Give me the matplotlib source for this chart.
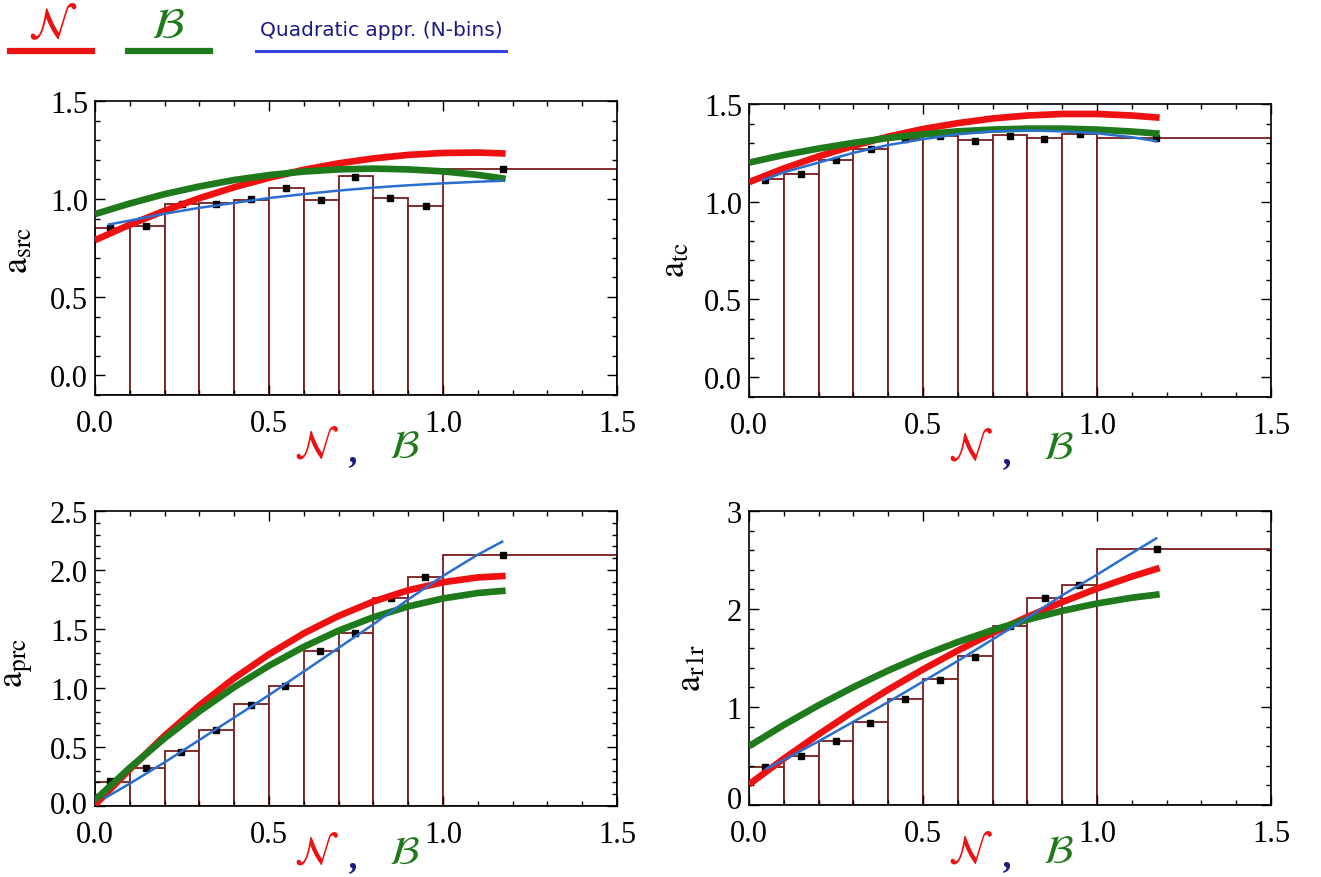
import numpy as np
import matplotlib
matplotlib.use('Agg')
import matplotlib.pyplot as plt
from matplotlib.lines import Line2D
from matplotlib.ticker import MultipleLocator
from matplotlib.transforms import ScaledTranslation

###############################################################################
# DATA
###############################################################################
bin_edges = [0.0, 0.1, 0.2, 0.3, 0.4, 0.5, 0.6, 0.7, 0.8, 0.9, 1.0, 1.5]
curve_x = [0.0, 0.1, 0.2, 0.3, 0.4, 0.5, 0.6, 0.7, 0.8, 0.9, 1.0, 1.1, 1.18]

# a_src
src_bins = [0.851, 0.864, 0.974, 0.979, 0.996, 1.056, 0.993, 1.116, 1.005, 0.965, 1.155]
src_pts_x = [0.042, 0.147, 0.25, 0.348, 0.447, 0.55, 0.648, 0.748, 0.848, 0.95, 1.173]
src_pts_y = [0.854, 0.862, 0.974, 0.976, 0.998, 1.056, 0.993, 1.113, 1.003, 0.962, 1.155]
src_N = [0.79, 0.869, 0.940, 1.004, 1.060, 1.108, 1.149, 1.182, 1.207, 1.225, 1.235, 1.237, 1.232]
src_B = [0.923, 0.977, 1.025, 1.064, 1.097, 1.122, 1.140, 1.151, 1.155, 1.151, 1.141, 1.123, 1.103]
src_quad_x = [0.04, 0.1, 0.2, 0.3, 0.4, 0.5, 0.6, 0.7, 0.8, 0.9, 1.0, 1.1, 1.17]
src_quad = [0.87, 0.89, 0.925, 0.955, 0.98, 1.005, 1.025, 1.043, 1.058, 1.07, 1.08, 1.088, 1.093]

# a_tc
tc_bins = [1.116, 1.142, 1.214, 1.27, 1.32, 1.338, 1.316, 1.341, 1.324, 1.347, 1.324]
tc_pts_x = [0.046, 0.15, 0.25, 0.35, 0.448, 0.55, 0.65, 0.749, 0.849, 0.95, 1.17]
tc_pts_y = [1.113, 1.142, 1.214, 1.27, 1.322, 1.338, 1.31, 1.338, 1.322, 1.345, 1.324]
tc_N = [1.10, 1.17, 1.232, 1.286, 1.333, 1.372, 1.402, 1.426, 1.441, 1.449, 1.449, 1.441, 1.43]
tc_B = [1.20, 1.239, 1.272, 1.301, 1.326, 1.345, 1.360, 1.369, 1.374, 1.374, 1.369, 1.359, 1.348]
tc_quad_x = [0.04, 0.1, 0.2, 0.3, 0.4, 0.5, 0.6, 0.7, 0.8, 0.9, 1.0, 1.1, 1.17]
tc_quad = [1.11, 1.15, 1.20, 1.25, 1.29, 1.32, 1.345, 1.36, 1.365, 1.36, 1.35, 1.33, 1.31]

# a_prc
prc_bins = [0.203, 0.325, 0.466, 0.644, 0.862, 1.017, 1.314, 1.463, 1.766, 1.944, 2.124]
prc_pts_x = [0.042, 0.147, 0.247, 0.348, 0.448, 0.547, 0.647, 0.747, 0.85, 0.948, 1.171]
prc_pts_y = [0.209, 0.322, 0.46, 0.644, 0.856, 1.017, 1.314, 1.463, 1.766, 1.944, 2.124]
prc_N = [0.01, 0.311, 0.596, 0.853, 1.083, 1.286, 1.463, 1.611, 1.733, 1.828, 1.896, 1.937, 1.95]
prc_B = [0.05, 0.324, 0.574, 0.802, 1.007, 1.189, 1.349, 1.486, 1.600, 1.691, 1.759, 1.805, 1.825]
prc_quad_x = [0.03, 0.1, 0.2, 0.3, 0.4, 0.5, 0.6, 0.7, 0.8, 0.9, 1.0, 1.1, 1.17]
prc_quad = [0.07, 0.19, 0.37, 0.56, 0.75, 0.94, 1.14, 1.34, 1.54, 1.75, 1.95, 2.13, 2.24]

# a_r1r
r1r_bins = [0.384, 0.503, 0.656, 0.843, 1.081, 1.284, 1.522, 1.828, 2.117, 2.243, 2.616]
r1r_pts_x = [0.046, 0.148, 0.25, 0.349, 0.449, 0.549, 0.648, 0.75, 0.851, 0.947, 1.172]
r1r_pts_y = [0.384, 0.503, 0.656, 0.836, 1.081, 1.277, 1.515, 1.828, 2.117, 2.25, 2.616]
r1r_N = [0.21, 0.473, 0.721, 0.956, 1.177, 1.384, 1.576, 1.755, 1.920, 2.071, 2.208, 2.331, 2.419]
r1r_B = [0.60, 0.817, 1.018, 1.203, 1.372, 1.526, 1.663, 1.785, 1.891, 1.981, 2.056, 2.115, 2.150]
r1r_quad_x = [0.05, 0.1, 0.2, 0.3, 0.4, 0.5, 0.6, 0.7, 0.8, 0.9, 1.0, 1.1, 1.17]
r1r_quad = [0.37, 0.46, 0.65, 0.85, 1.05, 1.26, 1.47, 1.69, 1.91, 2.14, 2.35, 2.57, 2.72]

x_ticks = [0.0, 0.5, 1.0, 1.5]
x_ticklabels = ['0.0', '0.5', '1.0', '1.5']

###############################################################################
# STYLE
###############################################################################
plt.rcParams['font.family'] = ['Liberation Serif', 'DejaVu Serif']
plt.rcParams['mathtext.fontset'] = 'stix'

RED = '#ee1111'
GREEN = '#1f7a1c'
BLUE = '#2a6fd0'
BAR_EDGE = '#7a1c1c'
NAVY = '#1a1a80'

W, H = 1321, 878


def rect(left, top, right, bottom):
    # pixel box -> figure fraction
    return [left / W, 1 - bottom / H, (right - left) / W, (bottom - top) / H]


def panel(ax, bins, pts_x, pts_y, n_vals, b_vals, qx, qy, ylabel,
          yticks, yticklabels, ylim, yminor, ylab_pos, xlab_y, zero_lift=0):
    edges = np.array(bin_edges)
    ax.bar(edges[:-1], bins, width=np.diff(edges), align='edge',
           facecolor='white', edgecolor=BAR_EDGE, linewidth=1.3, zorder=1)
    ax.plot(pts_x, pts_y, 's', color='black', markersize=4.5, zorder=2)
    ax.plot(curve_x, n_vals, color=RED, lw=4.8, solid_capstyle='butt', zorder=3)
    ax.plot(curve_x, b_vals, color=GREEN, lw=4.8, solid_capstyle='butt', zorder=4)
    ax.plot(qx, qy, color=BLUE, lw=1.8, zorder=5)

    ax.set_xlim(0, 1.5)
    ax.set_ylim(*ylim)
    ax.set_xticks(x_ticks)
    ax.set_xticklabels(x_ticklabels)
    ax.set_yticks(yticks)
    ax.set_yticklabels(yticklabels)
    ax.xaxis.set_minor_locator(MultipleLocator(0.1))
    ax.yaxis.set_minor_locator(MultipleLocator(yminor))
    ax.tick_params(which='both', direction='in', top=True, right=True,
                   labelsize=22, width=1)
    ax.tick_params(which='major', length=7)
    ax.tick_params(which='minor', length=3.5)
    ax.tick_params(axis='x', pad=10)
    ax.tick_params(axis='y', pad=5)
    for s in ax.spines.values():
        s.set_linewidth(1.2)

    # the lowest y label sits a little higher in the original
    if zero_lift:
        lab = ax.yaxis.get_major_ticks()[0].label1
        lab.set_transform(lab.get_transform() +
                          ScaledTranslation(0, zero_lift / 72, fig.dpi_scale_trans))

    ax.text(ylab_pos[0], ylab_pos[1], ylabel, transform=ax.transAxes,
            rotation=90, ha='center', va='center', fontsize=26)

    # coloured x label: N , B
    ax.text(0.425, xlab_y, r'$\mathcal{N}$', transform=ax.transAxes,
            ha='center', va='center', fontsize=29, color=RED)
    ax.text(0.497, xlab_y - 0.045, ',', transform=ax.transAxes, ha='center',
            va='baseline', fontsize=26, color=NAVY, style='italic',
            fontweight='bold')
    ax.text(0.592, xlab_y, r'$\mathcal{B}$', transform=ax.transAxes,
            ha='center', va='center', fontsize=29, color=GREEN)


###############################################################################
# FIGURE
###############################################################################
fig = plt.figure(figsize=(W / 100, H / 100), dpi=100)

ax1 = fig.add_axes(rect(95, 102, 617, 396))
panel(ax1, src_bins, src_pts_x, src_pts_y, src_N, src_B, src_quad_x, src_quad,
      r'$\mathrm{a}_{\mathrm{src}}$', [0.1, 0.5, 1.0, 1.5],
      ['0.0', '0.5', '1.0', '1.5'], (0, 1.5), 0.1, (-0.146, 0.497), -0.177)

ax2 = fig.add_axes(rect(749, 105, 1271, 398))
panel(ax2, tc_bins, tc_pts_x, tc_pts_y, tc_N, tc_B, tc_quad_x, tc_quad,
      r'$\mathrm{a}_{\mathrm{tc}}$', [0.1, 0.5, 1.0, 1.5],
      ['0.0', '0.5', '1.0', '1.5'], (0, 1.5), 0.1, (-0.14, 0.47), -0.177)

ax3 = fig.add_axes(rect(95, 512, 617, 807))
panel(ax3, prc_bins, prc_pts_x, prc_pts_y, prc_N, prc_B, prc_quad_x, prc_quad,
      r'$\mathrm{a}_{\mathrm{prc}}$', [0.0, 0.5, 1.0, 1.5, 2.0, 2.5],
      ['0.0', '0.5', '1.0', '1.5', '2.0', '2.5'], (0, 2.5), 0.1,
      (-0.144, 0.488), -0.16, zero_lift=3)

ax4 = fig.add_axes(rect(749, 512, 1271, 806))
panel(ax4, r1r_bins, r1r_pts_x, r1r_pts_y, r1r_N, r1r_B, r1r_quad_x, r1r_quad,
      r'$\mathrm{a}_{\mathrm{r1r}}$', [0, 1, 2, 3],
      ['0', '1', '2', '3'], (0, 3), 0.2, (-0.11, 0.47), -0.16, zero_lift=6)

# legend row at the top
fig.add_artist(Line2D([10 / W, 92 / W], [1 - 52 / H] * 2, color=RED, lw=4.5))
fig.add_artist(Line2D([128 / W, 210 / W], [1 - 52 / H] * 2, color=GREEN, lw=4.5))
fig.add_artist(Line2D([256 / W, 506 / W], [1 - 52 / H] * 2, color='#3344dd', lw=2.2))
fig.text(53 / W, 1 - 27 / H, r'$\mathcal{N}$', ha='center', va='center',
         fontsize=32, color=RED)
fig.text(168 / W, 1 - 27 / H, r'$\mathcal{B}$', ha='center', va='center',
         fontsize=32, color=GREEN)
fig.text(381 / W, 1 - 30 / H, 'Quadratic appr. (N-bins)', ha='center',
         va='center', fontsize=14.5, color=NAVY, family='DejaVu Sans')

fig.savefig('out.png', dpi=100)
